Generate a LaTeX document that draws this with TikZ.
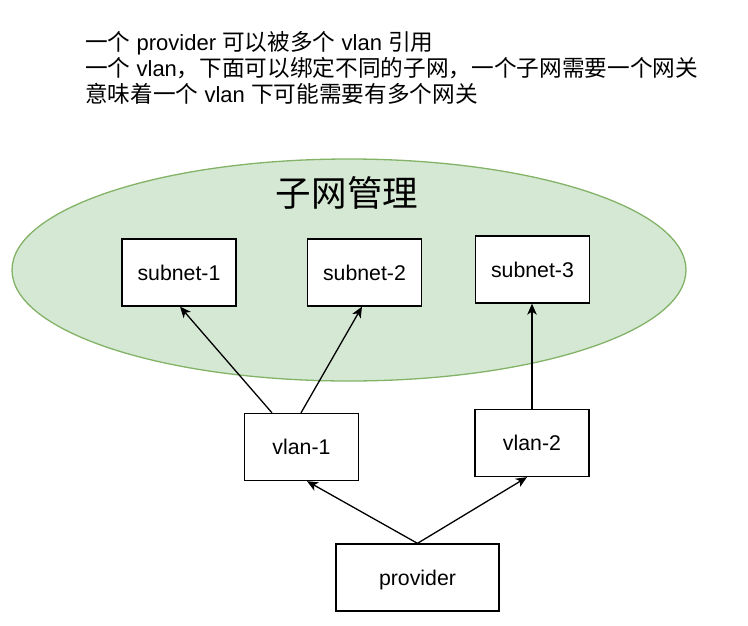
\documentclass[tikz,border=0pt]{standalone}
\usepackage{fontspec}
\setmainfont{Liberation Sans}
\newfontfamily\cjk[Scale=1.03]{Noto Sans CJK SC}
\usetikzlibrary{arrows.meta,calc,shapes.geometric}
\definecolor{grfill}{HTML}{D5E8D4}
\definecolor{grline}{HTML}{82B366}
\begin{document}
\begin{tikzpicture}[x=1pt,y=-1pt,
  box/.style={draw=black, line width=1.3pt, fill=white, minimum width=114pt,
    minimum height=67pt, inner sep=0pt, font=\fontsize{21.3}{25.6}\selectfont,
    text height=15.5pt, text depth=0pt},
  arr/.style={-{Stealth[length=11pt,width=9.5pt,inset=3pt]}, line width=1.3pt},
  notetext/.style={anchor=base west, inner sep=0pt, font=\fontsize{22}{26}\selectfont}]
\useasboundingbox (0,0) rectangle (748,625);
% notes
\node[notetext] (note1) at (85,50) {{\cjk 一个} provider {\cjk 可以被多个} vlan {\cjk 引用}};
\node[notetext] (note2) at (85,76) {{\cjk 一个} vlan{\cjk ，下面可以绑定不同的子网，一个子网需要一个网关}};
\node[notetext] (note3) at (85,102) {{\cjk 意味着一个} vlan {\cjk 下可能需要有多个网关}};
% ellipse
\node[ellipse, draw=grline, fill=grfill, line width=1.3pt, inner sep=0pt,
  minimum width=674pt, minimum height=222pt] (mgmt) at (349,270) {};
\node[anchor=base, inner sep=0pt, font=\cjk\fontsize{34.5}{40}\selectfont] (title) at (347,206.5) {子网管理};
% boxes
\node[box] (s1) at (179,272.5) {subnet-1};
\node[box] (s2) at (364.5,272.5) {subnet-2};
\node[box] (s3) at (532.5,269.5) {subnet-3};
\node[box] (v1) at (301.5,447) {vlan-1};
\node[box] (v2) at (532,443) {vlan-2};
\node[box, minimum width=163pt] (pr) at (417.5,577.5) {provider};
% arrows
\draw[arr] ([xshift=-29.5pt]v1.north) -- ([xshift=1pt]s1.south);
\draw[arr] ([xshift=-0.5pt]v1.north) -- ([xshift=-2.5pt]s2.south);
\draw[arr] (v2.north) -- (v2.north |- s3.south);
\draw[arr] (pr.north) -- ([xshift=5.5pt]v1.south);
\draw[arr] (pr.north) -- ([xshift=-5pt]v2.south);
\end{tikzpicture}
\end{document}
